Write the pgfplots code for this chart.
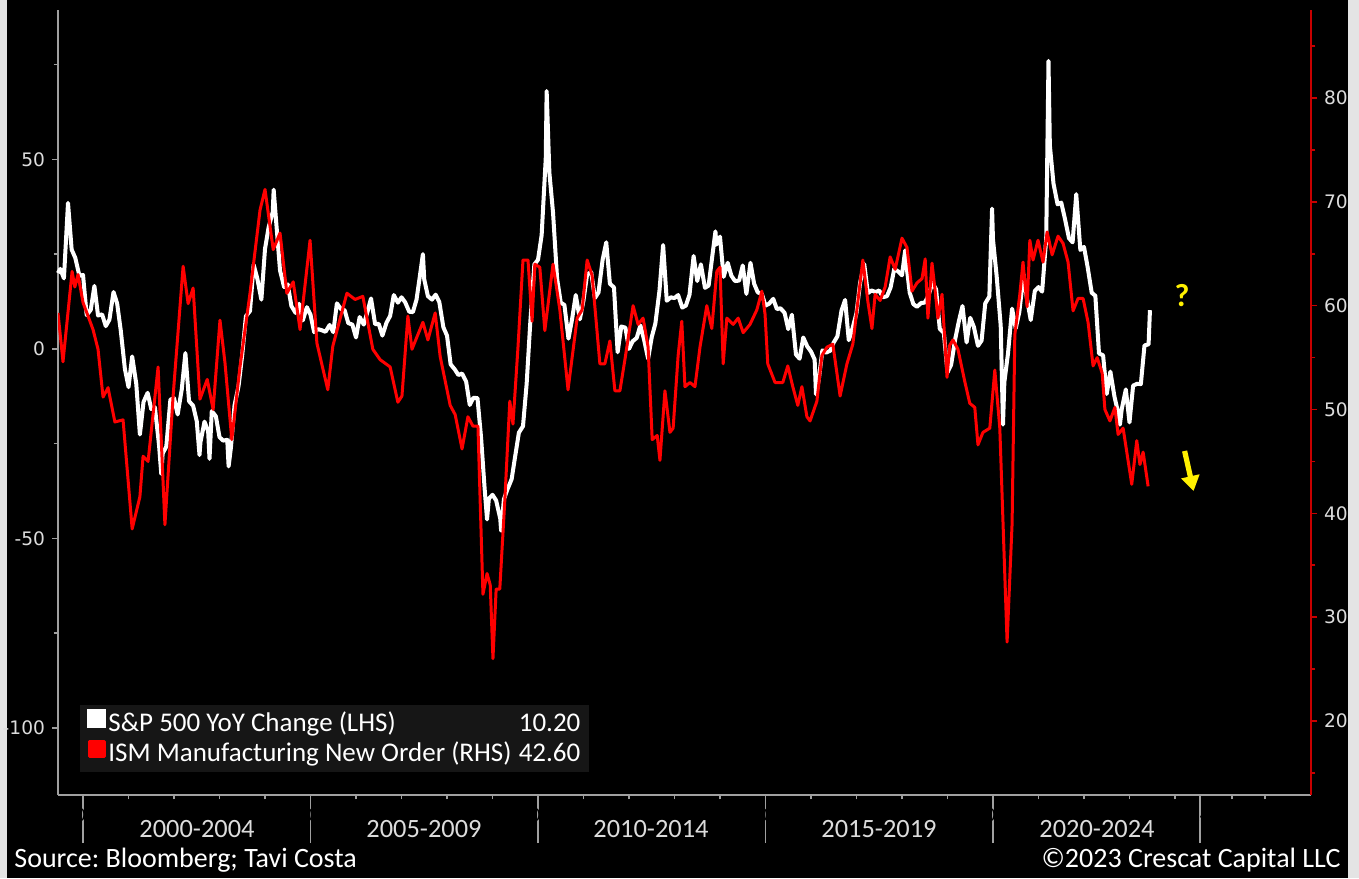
\documentclass[border=0pt]{standalone}
\usepackage{pgfplots}
\pgfplotsset{compat=1.18}
\usepackage{pgfplotstable}
\usetikzlibrary{arrows.meta}
\usepackage{fontspec}
\setmainfont{Carlito}
\newfontfamily\tickfont{DejaVu Sans}
\frenchspacing
\definecolor{lbl}{HTML}{DCDCDC}
\definecolor{axgray}{HTML}{A0A0A0}
\definecolor{ismred}{HTML}{FF0000}
\definecolor{axred}{HTML}{C80000}
\definecolor{legbg}{HTML}{161616}
\definecolor{yel}{HTML}{FFF000}
\definecolor{edge}{HTML}{E4E4E4}

\pgfplotstableread{
t v
1999.45 20
1999.50 21.1
1999.58 18.6
1999.67 38.5
1999.75 26.2
1999.83 24.0
1999.92 19.3
2000.00 19.5
2000.08 8.9
2000.17 10.3
2000.25 16.6
2000.33 8.8
2000.42 9.1
2000.50 6.0
2000.58 7.7
2000.67 15.0
2000.75 12.0
2000.83 4.8
2000.92 -5.3
2001.00 -10.1
2001.08 -2.0
2001.17 -9.2
2001.25 -22.6
2001.33 -14.0
2001.42 -11.6
2001.50 -15.9
2001.58 -15.4
2001.67 -25.3
2001.72 -33
2001.75 -27.6
2001.83 -25.8
2001.92 -13.4
2002.00 -13.0
2002.08 -17.3
2002.17 -10.7
2002.25 -1.1
2002.33 -13.8
2002.42 -15.0
2002.50 -19.1
2002.56 -28
2002.58 -24.7
2002.67 -19.2
2002.75 -21.7
2002.78 -29
2002.83 -16.4
2002.92 -17.8
2003.00 -23.3
2003.08 -24.2
2003.17 -24.0
2003.20 -31
2003.25 -26.1
2003.33 -14.9
2003.42 -9.7
2003.50 -1.5
2003.58 8.6
2003.67 10.0
2003.75 22.2
2003.83 18.6
2003.92 13.0
2004.00 26.4
2004.08 32.1
2004.17 36.1
2004.19 42
2004.25 32.8
2004.33 20.7
2004.42 16.3
2004.50 17.0
2004.58 11.3
2004.67 9.5
2004.75 11.9
2004.83 7.5
2004.92 11.0
2005.00 9.0
2005.08 4.4
2005.17 5.2
2005.25 4.9
2005.33 4.5
2005.42 6.3
2005.50 4.4
2005.58 12.0
2005.67 10.5
2005.75 10.2
2005.83 6.8
2005.92 6.4
2006.00 3.0
2006.08 8.4
2006.17 6.4
2006.25 9.7
2006.33 13.3
2006.42 6.5
2006.50 6.6
2006.58 3.5
2006.67 6.9
2006.75 8.7
2006.83 14.2
2006.92 12.2
2007.00 13.6
2007.08 12.3
2007.17 9.8
2007.25 9.7
2007.33 13.0
2007.42 20.6
2007.47 25
2007.50 18.3
2007.58 13.9
2007.67 13.0
2007.75 14.3
2007.83 12.4
2007.92 5.7
2008.00 3.5
2008.08 -4.1
2008.17 -5.4
2008.25 -6.9
2008.33 -6.5
2008.42 -8.6
2008.50 -14.8
2008.58 -12.9
2008.67 -13.0
2008.75 -23.6
2008.83 -37.4
2008.88 -45
2008.92 -39.5
2009.00 -38.5
2009.08 -40.0
2009.17 -44.8
2009.19 -48
2009.25 -39.7
2009.33 -37.0
2009.42 -34.4
2009.50 -28.2
2009.58 -22.1
2009.67 -20.4
2009.75 -9.3
2009.83 6.9
2009.92 22.3
2010.00 23.5
2010.08 30.0
2010.17 50.2
2010.19 68
2010.25 46.5
2010.33 36.0
2010.42 18.5
2010.50 12.2
2010.58 11.6
2010.67 2.7
2010.75 7.9
2010.83 14.2
2010.92 7.8
2011.00 12.8
2011.08 19.7
2011.17 20.2
2011.25 13.4
2011.33 14.9
2011.42 23.5
2011.50 28.1
2011.58 17.2
2011.67 16.2
2011.75 -0.9
2011.83 5.9
2011.92 5.6
2012.00 0.0
2012.08 2.0
2012.17 2.9
2012.25 6.2
2012.33 2.5
2012.42 -2.6
2012.50 3.1
2012.58 6.7
2012.67 15.4
2012.75 27.4
2012.83 12.7
2012.92 13.6
2013.00 13.4
2013.08 14.2
2013.17 10.9
2013.25 11.4
2013.33 14.3
2013.42 24.5
2013.50 17.9
2013.58 22.3
2013.67 16.1
2013.75 16.7
2013.83 24.4
2013.90 31
2013.92 27.5
2014.00 29.6
2014.08 19.0
2014.17 22.7
2014.25 19.3
2014.33 17.9
2014.42 18.0
2014.50 22.0
2014.58 14.5
2014.67 22.7
2014.75 17.2
2014.83 14.9
2014.92 14.5
2015.00 11.4
2015.08 11.9
2015.17 13.2
2015.25 10.5
2015.33 10.7
2015.42 9.5
2015.50 5.2
2015.58 9.0
2015.67 -1.5
2015.75 -2.6
2015.83 3.0
2015.92 0.6
2016.00 -0.7
2016.08 -2.8
2016.11 -12
2016.17 -8.2
2016.25 -0.4
2016.33 -1.0
2016.42 -0.5
2016.50 1.7
2016.58 3.3
2016.67 10.1
2016.75 12.9
2016.83 2.3
2016.92 5.7
2017.00 9.5
2017.08 17.5
2017.17 22.4
2017.25 14.7
2017.33 15.4
2017.42 15.0
2017.50 15.4
2017.58 13.6
2017.67 13.9
2017.75 16.2
2017.83 21.1
2017.92 20.4
2018.00 19.4
2018.07 26
2018.08 23.9
2018.17 14.8
2018.25 11.8
2018.33 11.1
2018.42 12.1
2018.50 12.2
2018.58 14.0
2018.67 17.4
2018.75 15.7
2018.83 5.3
2018.92 4.2
2019.00 -6.2
2019.08 -4.2
2019.17 2.6
2019.25 7.3
2019.33 11.3
2019.42 1.7
2019.50 8.2
2019.58 5.8
2019.67 0.8
2019.75 2.2
2019.83 12.0
2019.92 13.8
2019.98 37
2020.00 28.9
2020.08 19.3
2020.17 6.1
2020.22 -20
2020.25 -8.8
2020.33 -1.2
2020.42 10.6
2020.50 5.4
2020.58 9.8
2020.67 19.6
2020.75 13.0
2020.83 7.6
2020.92 15.3
2021.00 16.3
2021.08 15.1
2021.17 29.0
2021.22 76
2021.25 53.7
2021.33 43.6
2021.42 38.1
2021.50 38.6
2021.58 34.4
2021.67 29.2
2021.75 28.1
2021.83 40.8
2021.92 26.1
2022.00 26.9
2022.08 21.6
2022.17 14.8
2022.25 14.0
2022.33 -1.2
2022.42 -1.7
2022.50 -11.9
2022.58 -6.0
2022.67 -12.6
2022.75 -16.8
2022.79 -20
2022.83 -15.9
2022.92 -10.7
2023.00 -19.4
2023.08 -9.7
2023.17 -9.2
2023.25 -9.3
2023.33 0.9
2023.42 1.2
2023.45 10.2
}\spx

\pgfplotstableread{
t v
1999.45 59.3
1999.56 54.6
1999.76 63.3
1999.82 61.8
1999.89 63.0
2000.00 60.3
2000.22 57.7
2000.33 55.8
2000.44 51.2
2000.55 52.1
2000.70 48.8
2000.88 49.0
2001.08 38.5
2001.25 41.6
2001.32 45.5
2001.43 45.0
2001.65 54.1
2001.80 38.9
2001.98 51.3
2002.20 63.8
2002.31 60.2
2002.42 61.7
2002.57 51.0
2002.73 52.9
2002.86 50.0
2003.01 58.6
2003.12 54.5
2003.27 47.1
2003.45 54.1
2003.67 61.2
2003.89 69.2
2004.00 71.2
2004.18 65.4
2004.33 67.0
2004.48 61.2
2004.62 62.3
2004.77 57.7
2004.99 66.3
2005.14 56.4
2005.38 51.9
2005.49 56.1
2005.80 61.2
2005.98 60.6
2006.15 60.9
2006.37 55.8
2006.53 54.8
2006.75 54.1
2006.92 50.7
2007.01 51.3
2007.14 59.0
2007.23 55.8
2007.34 57.0
2007.47 58.4
2007.58 56.7
2007.74 59.3
2007.85 55.1
2008.07 50.4
2008.18 49.5
2008.33 46.2
2008.46 49.3
2008.57 48.4
2008.68 48.4
2008.79 32.2
2008.88 34.2
2008.95 33.1
2009.01 26.0
2009.08 32.7
2009.16 32.7
2009.27 41.2
2009.38 50.8
2009.45 48.6
2009.56 56.0
2009.67 64.4
2009.78 64.4
2009.87 58.5
2009.93 64.0
2010.04 63.7
2010.15 57.6
2010.33 64.0
2010.48 59.6
2010.66 51.9
2010.86 58.8
2010.97 59.6
2011.08 64.4
2011.19 62.9
2011.36 54.4
2011.47 54.4
2011.58 56.6
2011.69 51.8
2011.80 51.8
2011.91 54.8
2012.09 60.0
2012.20 58.2
2012.31 58.8
2012.42 56.0
2012.51 47.1
2012.62 47.5
2012.68 45.1
2012.79 51.8
2012.90 47.8
2012.97 48.2
2013.08 55.2
2013.16 58.5
2013.23 52.2
2013.34 52.6
2013.45 52.2
2013.56 56.0
2013.71 60.0
2013.82 57.8
2013.93 63.3
2014.00 63.7
2014.07 54.4
2014.15 58.8
2014.29 58.2
2014.40 58.8
2014.51 57.4
2014.66 58.2
2014.81 59.6
2014.92 61.4
2014.99 59.2
2015.05 54.4
2015.21 52.6
2015.38 52.6
2015.49 54.2
2015.60 52.2
2015.71 50.4
2015.80 52.2
2015.91 49.3
2015.98 48.9
2016.13 50.8
2016.24 55.2
2016.35 56.0
2016.48 56.3
2016.64 51.3
2016.79 54.4
2016.92 56.3
2017.03 60.4
2017.14 64.4
2017.25 60.4
2017.34 57.8
2017.41 61.1
2017.52 60.5
2017.63 61.8
2017.74 64.7
2017.85 63.5
2018.00 66.5
2018.11 65.6
2018.22 61.4
2018.33 62.2
2018.44 62.6
2018.51 64.5
2018.57 58.8
2018.66 64.1
2018.73 61.4
2018.79 58.8
2018.88 61.1
2018.99 53.1
2019.05 56.2
2019.12 56.7
2019.23 55.8
2019.38 52.7
2019.49 50.6
2019.60 50.2
2019.67 46.6
2019.78 47.8
2019.93 48.2
2020.04 53.8
2020.15 48.2
2020.31 27.6
2020.42 39.0
2020.48 57.2
2020.59 61.1
2020.66 64.2
2020.75 59.9
2020.81 66.3
2020.88 64.4
2020.99 66.3
2021.10 64.2
2021.19 67.1
2021.30 64.9
2021.43 66.7
2021.54 66.0
2021.65 64.2
2021.76 59.5
2021.87 60.7
2021.98 60.7
2022.09 58.4
2022.20 54.2
2022.29 55.0
2022.40 53.5
2022.46 50.0
2022.57 48.9
2022.68 50.2
2022.75 47.6
2022.86 48.2
2023.05 42.8
2023.16 47.0
2023.23 44.7
2023.30 45.9
2023.41 42.6
}\ism

\begin{document}
\begin{tikzpicture}[x=1pt,y=1pt]
\useasboundingbox (0,0) rectangle (679.5,439);
\fill[edge] (0,0) rectangle (679.5,439);
\fill[black] (3.5,0) rectangle (674,439);

\begin{axis}[
  at={(29pt,41.5pt)}, anchor=south west,
  scale only axis, width=626.5pt, height=392.5pt,
  xmin=1999.45, xmax=2026.99, ymin=-117.7, ymax=89.4,
  axis x line*=bottom, axis y line*=left,
  axis line style={axgray, line width=0.8pt, -},
  xtick={2000,2005,2010,2015,2020,2024.55},
  xticklabel={},
  minor xtick={2001,2002,2003,2004,2006,2007,2008,2009,2011,2012,2013,2014,2016,2017,2018,2019,2021,2022,2023,2024,2025.25,2025.98},
  ytick={-100,-50,0,50},
  minor ytick={-75,-25,25,75},
  tick align=outside,
  major tick length=3pt, minor tick length=2.2pt,
  x tick style={axgray, line width=0.8pt, /pgfplots/major tick length=24pt},
  y tick style={axgray, line width=0.8pt},
  /pgf/number format/assume math mode=true,
  yticklabel style={font=\tickfont\fontsize{9.3}{10}\selectfont, text=lbl},
  clip=false,
]
\addplot[white, line width=2pt, line join=round] table[x=t, y=v] {\spx};
\end{axis}

\begin{axis}[
  at={(29pt,41.5pt)}, anchor=south west,
  scale only axis, width=626.5pt, height=392.5pt,
  xmin=1999.45, xmax=2026.99, ymin=12.87, ymax=88.48,
  axis x line=none, axis y line*=right,
  axis line style={axred, line width=0.8pt, -},
  ytick={20,30,...,80},
  minor ytick={15,25,...,85},
  tick align=outside,
  major tick length=3pt, minor tick length=2.2pt,
  y tick style={axred, line width=0.8pt},
  /pgf/number format/assume math mode=true,
  yticklabel style={font=\tickfont\fontsize{9.3}{10}\selectfont, text=lbl},
  legend style={at={(0.01756,0.0293)}, anchor=south west,
    fill=legbg, draw=none, text=white,
    font=\fontsize{13.5}{14}\selectfont,
    inner xsep=3.5pt, inner ysep=2pt, row sep=1pt,
    nodes={inner xsep=1pt, inner ysep=0pt, text height=9.5pt, text depth=3pt},
    cells={anchor=west}},
  legend image code/.code={\fill[#1] (0pt,-0.5pt) rectangle (7.5pt,7pt);},
  legend cell align=left,
]
\addlegendimage{white, line width=2pt}
\addlegendentry{\makebox[236pt][l]{S\&P 500 YoY Change (LHS)\hfill 10.20}}
\addplot[ismred, line width=1.5pt, line join=round] table[x=t, y=v] {\ism};
\addlegendentry{\makebox[236pt][l]{ISM Manufacturing New Order (RHS)\hfill 42.60}}
\end{axis}

\node[text=lbl, font=\fontsize{13.2}{14}\selectfont] at (98.5,24.5) {2000-2004};
\node[text=lbl, font=\fontsize{13.2}{14}\selectfont] at (212,24.5) {2005-2009};
\node[text=lbl, font=\fontsize{13.2}{14}\selectfont] at (325.5,24.5) {2010-2014};
\node[text=lbl, font=\fontsize{13.2}{14}\selectfont] at (439.5,24.5) {2015-2019};
\node[text=lbl, font=\fontsize{13.2}{14}\selectfont] at (548.5,24.5) {2020-2024};
\node[anchor=west, text=white, font=\fontsize{14}{15}\selectfont, inner sep=0pt] at (7,9) {Source: Bloomberg; Tavi Costa};
\node[anchor=east, text=white, font=\fontsize{14}{15}\selectfont, inner sep=0pt] at (670.5,9) {©2023 Crescat Capital LLC};
\node[text=yel, font=\bfseries\fontsize{16}{16}\selectfont] at (591,291) {?};
\draw[yel, line width=2.6pt, -{Triangle[width=9pt,length=7.5pt]}] (592.3,213.5) -- (596.8,193.5);
\end{tikzpicture}
\end{document}
